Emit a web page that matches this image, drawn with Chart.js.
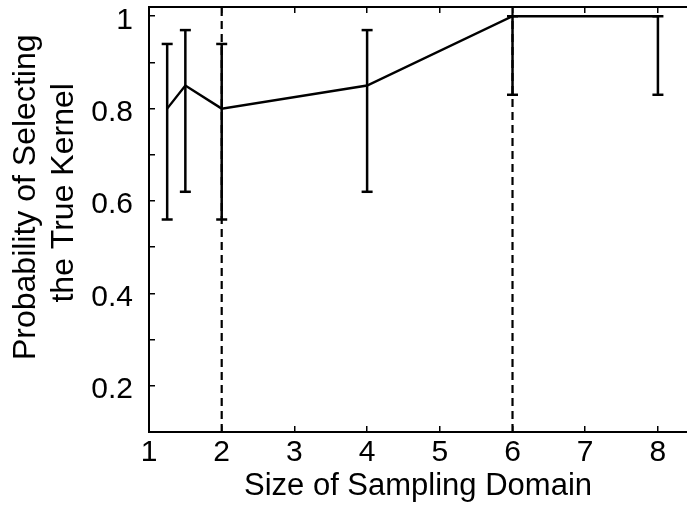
<!DOCTYPE html>
<html><head><meta charset="utf-8">
<script src="https://cdn.jsdelivr.net/npm/chart.js@4/dist/chart.umd.min.js"></script>
<style>html,body{margin:0;padding:0;background:#fff;overflow:hidden}</style>
</head><body>
<canvas id="c" width="687" height="505"></canvas>
<script>
// ---- data ----
const domainSizes = [1.25, 1.5, 2, 4, 6, 8];
const probMean    = [0.80, 0.85, 0.80, 0.85, 1.00, 1.00];
const probLower   = [0.56, 0.62, 0.56, 0.62, 0.83, 0.83];
const probUpper   = [0.94, 0.97, 0.94, 0.97, 1.00, 1.00];
const markerLines = [2, 6];
const xTickValues = [1, 2, 3, 4, 5, 6, 7, 8];
const xTickLabels = ['1', '2', '3', '4', '5', '6', '7', '8'];
const yTickValues = [0.2, 0.3, 0.4, 0.5, 0.6, 0.7, 0.8, 0.9, 1.0];
const yTickLabels = ['0.2', '', '0.4', '', '0.6', '', '0.8', '', '1'];
const xTitle = 'Size of Sampling Domain';
const yTitle = ['     Probability of Selecting', '      the True Kernel'];
const X_MIN = 1, X_MAX = 8.4, Y_MIN = 0.1, Y_MAX = 1.02;

// ---- derived datasets ----
const meanPts = domainSizes.map((x, i) => ({x, y: probMean[i]}));
const barPts = [];
domainSizes.forEach((x, i) => { barPts.push({x, y: probLower[i]}, {x, y: probUpper[i]}, {x, y: null}); });
const capPts = [];
domainSizes.forEach((x, i) => { capPts.push({x, y: probLower[i]}, {x, y: probUpper[i]}); });
const vPts = [];
markerLines.forEach(x => { vPts.push({x, y: Y_MIN}, {x, y: Y_MAX}, {x, y: null}); });

const FONT = "'Liberation Sans', Arial, Helvetica, sans-serif";
const BLACK = '#000';
const TL = -6;
const noPad = s => { s.paddingTop = 0; s.paddingBottom = 0; s.paddingLeft = 0; s.paddingRight = 0; };

new Chart(document.getElementById('c'), {
  type: 'line',
  data: {
    datasets: [
      {data: vPts, borderColor: BLACK, borderWidth: 2.2, borderDash: [8, 5], pointRadius: 0, spanGaps: false, fill: false, tension: 0},
      {data: barPts, borderColor: BLACK, borderWidth: 2.5, pointRadius: 0, spanGaps: false, fill: false, tension: 0},
      {data: capPts, showLine: false, pointStyle: 'line', pointRadius: 5.5, pointBorderWidth: 2.5, pointBorderColor: BLACK, pointBackgroundColor: BLACK},
      {data: meanPts, borderColor: BLACK, borderWidth: 2.4, pointRadius: 0, fill: false, tension: 0}
    ]
  },
  options: {
    responsive: false,
    animation: false,
    devicePixelRatio: 1,
    layout: {autoPadding: false, padding: {top: 7, right: 0, left: 0, bottom: 0}},
    plugins: {legend: {display: false}, tooltip: {enabled: false}},
    scales: {
      x: {
        type: 'linear', position: 'bottom', min: X_MIN, max: X_MAX,
        afterBuildTicks: s => { s.ticks = xTickValues.map(v => ({value: v})); },
        afterFit: s => { s.height = 73; noPad(s); },
        ticks: {
          color: BLACK, padding: 9 - TL - 6, maxRotation: 0, autoSkip: false,
          font: {family: FONT, size: 30},
          callback: (v) => { const i = xTickValues.indexOf(v); return i >= 0 ? xTickLabels[i] : ''; }
        },
        grid: {drawOnChartArea: false, drawTicks: true, tickLength: TL, color: BLACK, lineWidth: 1.5},
        border: {display: true, color: BLACK, width: 2},
        title: {display: true, text: xTitle, color: BLACK, font: {family: FONT, size: 31, lineHeight: 1}, padding: {top: 0, bottom: 3}}
      },
      x2: {
        type: 'linear', position: 'top', min: X_MIN, max: X_MAX,
        afterBuildTicks: s => { s.ticks = xTickValues.map(v => ({value: v})); },
        afterFit: s => { s.height = 0; noPad(s); },
        ticks: {display: false},
        grid: {drawOnChartArea: false, drawTicks: true, tickLength: TL, color: BLACK, lineWidth: 1.5},
        border: {display: true, color: BLACK, width: 2}
      },
      y: {
        type: 'linear', position: 'left', min: Y_MIN, max: Y_MAX,
        afterBuildTicks: s => { s.ticks = yTickValues.map(v => ({value: v})); },
        afterFit: s => { s.width = 149; noPad(s); },
        ticks: {
          color: BLACK, padding: 16 - TL, autoSkip: false, labelOffset: 4,
          font: {family: FONT, size: 30},
          callback: (v) => { const i = yTickValues.findIndex(t => Math.abs(t - v) < 1e-9); return i >= 0 ? yTickLabels[i] : ''; }
        },
        grid: {drawOnChartArea: false, drawTicks: true, tickLength: TL, color: BLACK, lineWidth: 1.5},
        border: {display: true, color: BLACK, width: 2},
        title: {display: true, text: yTitle, color: BLACK, font: {family: FONT, size: 32, lineHeight: 1.2}, padding: {top: 7, bottom: 0}}
      }
    }
  }
});
</script>
</body></html>
